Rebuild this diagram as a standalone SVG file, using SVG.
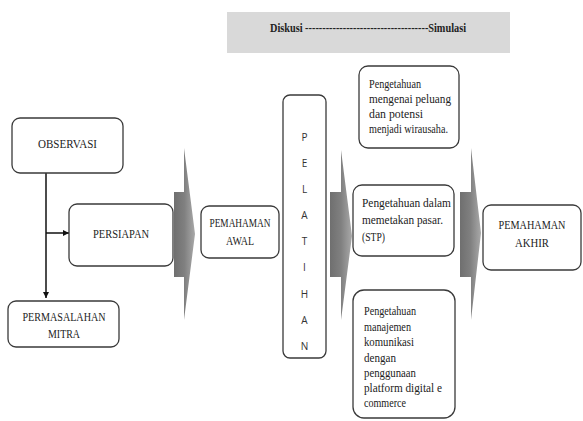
<svg xmlns="http://www.w3.org/2000/svg" width="583" height="421" viewBox="0 0 583 421">
<style>
.box{fill:#fff;stroke:#3a3a3a;stroke-width:1.3}
.t{font-family:"Liberation Serif","Times New Roman",serif;font-size:13px;fill:#222}
.b{font-family:"Liberation Serif","Times New Roman",serif;font-size:12.5px;fill:#222}
.s{font-family:"Open Sans","Liberation Sans",sans-serif;font-size:10px;fill:#333}
.big{fill:url(#g)}
.ln{stroke:#111;stroke-width:1.5;fill:none}
</style>
<defs>
<linearGradient id="g" x1="0" y1="0" x2="1" y2="0">
<stop offset="0" stop-color="#6f6f6f"/>
<stop offset="0.5" stop-color="#808080"/>
<stop offset="1" stop-color="#a9a9a9"/>
</linearGradient>
<marker id="ah" viewBox="0 0 10 10" refX="10" refY="5" markerWidth="6" markerHeight="6" orient="auto" markerUnits="userSpaceOnUse">
<path d="M0,0 L10,5 L0,10 z" fill="#111"/>
</marker>
</defs>
<rect width="583" height="421" fill="#fff"/>

<g id="banner">
<rect x="227" y="12" width="283" height="41" fill="#d9d9d9"/>
<text x="270" y="32" class="t" font-weight="bold" textLength="196" lengthAdjust="spacingAndGlyphs">Diskusi ------------------------------------Simulasi</text>
</g>

<g id="connectors">
<line class="ln" x1="46" y1="173" x2="46" y2="298" marker-end="url(#ah)"/>
<line class="ln" x1="46" y1="233" x2="69" y2="233" marker-end="url(#ah)"/>
</g>

<g id="arrows">
<polygon class="big" points="174,192 184,192 184,148 195,234 184,320 184,277 174,277"/>
<polygon class="big" points="330,192 341,192 341,150 352,236 341,320 341,277 330,277"/>
<polygon class="big" points="460,192 471,192 471,148 481,233 471,320 471,277 460,277"/>
</g>

<g id="observasi">
<rect class="box" x="12" y="118" width="111" height="55" rx="8"/>
<text class="t" x="67.5" y="148" text-anchor="middle" textLength="59" lengthAdjust="spacingAndGlyphs">OBSERVASI</text>
</g>

<g id="persiapan">
<rect class="box" x="69" y="204" width="104" height="62" rx="8"/>
<text class="t" x="121" y="238" text-anchor="middle" textLength="56" lengthAdjust="spacingAndGlyphs">PERSIAPAN</text>
</g>

<g id="permasalahan">
<rect class="box" x="8" y="301" width="111" height="46" rx="8"/>
<text class="t" x="64" y="321" text-anchor="middle" textLength="83" lengthAdjust="spacingAndGlyphs">PERMASALAHAN</text>
<text class="t" x="64" y="338" text-anchor="middle" textLength="32" lengthAdjust="spacingAndGlyphs">MITRA</text>
</g>

<g id="pemahaman-awal">
<rect class="box" x="201" y="206" width="78" height="52" rx="8"/>
<text class="t" x="240" y="227" text-anchor="middle" textLength="61" lengthAdjust="spacingAndGlyphs">PEMAHAMAN</text>
<text class="t" x="240" y="245" text-anchor="middle" textLength="28" lengthAdjust="spacingAndGlyphs">AWAL</text>
</g>

<g id="pelatihan">
<rect class="box" x="283" y="95" width="43" height="263" rx="7"/>
<text class="s" x="304.5" text-anchor="middle"><tspan x="304.5" y="141">P</tspan><tspan x="304.5" y="167">E</tspan><tspan x="304.5" y="193">L</tspan><tspan x="304.5" y="219">A</tspan><tspan x="304.5" y="245">T</tspan><tspan x="304.5" y="271">I</tspan><tspan x="304.5" y="298">H</tspan><tspan x="304.5" y="324">A</tspan><tspan x="304.5" y="350">N</tspan></text>
</g>

<g id="peluang">
<rect class="box" x="359" y="66" width="100" height="82" rx="9"/>
<text class="b" x="369" y="88" textLength="52" lengthAdjust="spacingAndGlyphs">Pengetahuan</text>
<text class="b" x="369" y="103" textLength="82" lengthAdjust="spacingAndGlyphs">mengenai peluang</text>
<text class="b" x="369" y="118" textLength="54" lengthAdjust="spacingAndGlyphs">dan potensi</text>
<text class="b" x="369" y="133" textLength="79" lengthAdjust="spacingAndGlyphs">menjadi wirausaha.</text>
</g>

<g id="stp">
<rect class="box" x="353" y="185" width="101" height="71" rx="9"/>
<text class="b" x="362" y="207" textLength="89" lengthAdjust="spacingAndGlyphs">Pengetahuan dalam</text>
<text class="b" x="362" y="224" textLength="81" lengthAdjust="spacingAndGlyphs">memetakan pasar.</text>
<text class="b" x="362" y="241" textLength="23" lengthAdjust="spacingAndGlyphs">(STP)</text>
</g>

<g id="komunikasi">
<rect class="box" x="353" y="290" width="102" height="128" rx="11"/>
<text class="b" x="364" y="315" textLength="52" lengthAdjust="spacingAndGlyphs">Pengetahuan</text>
<text class="b" x="364" y="331" textLength="47" lengthAdjust="spacingAndGlyphs">manajemen</text>
<text class="b" x="364" y="346" textLength="50" lengthAdjust="spacingAndGlyphs">komunikasi</text>
<text class="b" x="364" y="362" textLength="32" lengthAdjust="spacingAndGlyphs">dengan</text>
<text class="b" x="364" y="377" textLength="52" lengthAdjust="spacingAndGlyphs">penggunaan</text>
<text class="b" x="364" y="392" textLength="78" lengthAdjust="spacingAndGlyphs">platform digital e</text>
<text class="b" x="364" y="407" textLength="42" lengthAdjust="spacingAndGlyphs">commerce</text>
</g>

<g id="pemahaman-akhir">
<rect class="box" x="483" y="205" width="98" height="65" rx="8"/>
<text class="t" x="532" y="229" text-anchor="middle" textLength="67" lengthAdjust="spacingAndGlyphs">PEMAHAMAN</text>
<text class="t" x="532" y="247" text-anchor="middle" textLength="34" lengthAdjust="spacingAndGlyphs">AKHIR</text>
</g>
</svg>
